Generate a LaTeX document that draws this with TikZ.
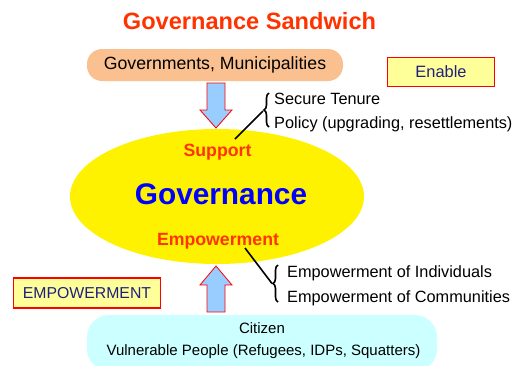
\documentclass[tikz,border=0pt]{standalone}
\usepackage{fontspec}
\setmainfont{Liberation Sans}
\usetikzlibrary{decorations.pathreplacing,shapes.geometric}
\definecolor{hotred}{HTML}{FF3300}
\definecolor{peach}{HTML}{FAC090}
\definecolor{paleyellow}{HTML}{FFFF99}
\definecolor{navytext}{HTML}{1F1F80}
\definecolor{arrowblue}{HTML}{99CCFF}
\definecolor{palecyan}{HTML}{CCFFFF}
\definecolor{govblue}{HTML}{0000FF}
\newcommand{\fsz}[1]{\fontsize{#1}{1.2\dimexpr#1pt\relax}\selectfont}
\tikzset{
  tagbox/.style={draw=red, line width=1.6pt, fill=paleyellow, text=navytext,
    minimum width=107pt, minimum height=29pt, inner sep=0pt, font=\fsz{16.4}},
  blockarrow/.style={draw=red, line width=0.8pt, fill=arrowblue, line join=miter},
  itemtext/.style={anchor=west, inner sep=0pt, font=\fsz{16.3}},
  corelabel/.style={text=hotred, font=\bfseries\fsz{17.7}, inner sep=0pt},
  curly/.style={decorate, decoration={brace, amplitude=5pt}, line width=1.6pt},
  link/.style={line width=1.6pt}
}
\begin{document}
\begin{tikzpicture}[x=1pt,y=-1pt]
\useasboundingbox (0,0) rectangle (528,365);

% heading
\node[text=hotred, font=\bfseries\fsz{23.6}, inner sep=0pt] (title) at (249.5,21) {Governance Sandwich};

% upper actors
\node[fill=peach, rounded corners=15pt, minimum width=256pt, minimum height=32pt,
      inner sep=0pt, font=\fsz{17.7}] (gov) at (215,65) {Governments, Municipalities};
\node[tagbox] (enable) at (441,72) {Enable};

% support arrow (downwards)
\draw[blockarrow] (207,83) -- (225,83) -- (225,110) -- (232,110) -- (216,128)
  -- (200,110) -- (207,110) -- cycle;

% central ellipse
\node[ellipse, fill=yellow, minimum width=294pt, minimum height=135pt, inner sep=0pt]
  (core) at (217,196.5) {};
\node[corelabel] (support) at (217.5,152) {Support};
\node[text=govblue, font=\bfseries\fsz{29.8}, inner sep=0pt] (governance) at (221,194) {Governance};
\node[corelabel] (empower) at (218,241) {Empowerment};

% support items
\node[itemtext] (tenure) at (274,99) {Secure Tenure};
\node[itemtext] (policy) at (274,124) {Policy (upgrading, resettlements)};
\draw[curly] (269,127) -- (269,93);
\coordinate (upper-tip) at (263,111);
\coordinate (support-link) at (235,139);
\draw[link] (upper-tip) -- (support-link);

% empowerment items
\node[itemtext] (individuals) at (287,273) {Empowerment of Individuals};
\node[itemtext] (communities) at (287,298) {Empowerment of Communities};
\draw[curly] (278,302) -- (278,265);
\coordinate (lower-tip) at (272,283.5);
\coordinate (empower-link) at (245,248);
\draw[link] (empower-link) -- (lower-tip);

% empowerment arrow (upwards)
\draw[blockarrow] (207,312) -- (225,312) -- (225,285) -- (232,285) -- (216,266)
  -- (200,285) -- (207,285) -- cycle;
\node[tagbox, minimum width=147pt, minimum height=30pt, font=\fsz{15.8}] (empbox) at (87,293) {EMPOWERMENT};

% citizens
\node[fill=palecyan, rounded corners=22pt, minimum width=350pt, minimum height=56pt,
      inner sep=0pt] (citizen) at (262,343) {};
\node[font=\fsz{15}, inner sep=0pt] (citizen-head) at (262,328) {Citizen};
\node[font=\fsz{15}, inner sep=0pt] (citizen-sub) at (263.5,352) {Vulnerable People (Refugees, IDPs, Squatters)};
\end{tikzpicture}
\end{document}
